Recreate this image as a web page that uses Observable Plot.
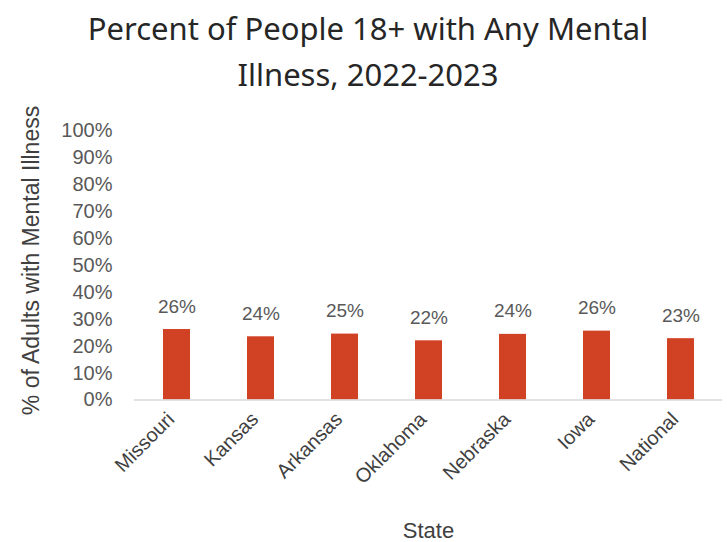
<!DOCTYPE html>
<html>
<head>
<meta charset="utf-8">
<script src="https://cdn.jsdelivr.net/npm/d3@7"></script>
<script src="https://cdn.jsdelivr.net/npm/@observablehq/plot@0.6"></script>
<style>
  html, body { margin: 0; padding: 0; background: #fff; }
  #wrap { position: relative; width: 727px; height: 542px; }
  #title {
    position: absolute; left: 0; top: 0;
    width: 727px; box-sizing: border-box;
    padding-left: 9px; padding-top: 5px;
    font-family: "Noto Sans", "Open Sans", sans-serif;
    font-size: 31px; line-height: 46px; color: #262626;
    text-align: center;
  }
  #chart svg { display: block; }
</style>
</head>
<body>
<div id="wrap">
<div id="chart"></div>
<div id="title">Percent of People 18+ with Any Mental<br>Illness, 2022-2023</div>
</div>
<script>
const states = ["Missouri", "Kansas", "Arkansas", "Oklahoma", "Nebraska", "Iowa", "National"];
const values = [26.2, 23.5, 24.5, 22.0, 24.4, 25.6, 22.8];
const valueLabels = ["26%", "24%", "25%", "22%", "24%", "26%", "23%"];
const yTicks = [0, 10, 20, 30, 40, 50, 60, 70, 80, 90, 100];
const yLabel = "% of Adults with Mental Illness";
const xLabel = "State";

const data = states.map((s, i) => ({state: s, value: values[i], label: valueLabels[i]}));

const chart = Plot.plot({
  width: 727,
  height: 542,
  marginTop: 130.5,
  marginBottom: 142.5,
  marginLeft: 134,
  marginRight: 5,
  style: {fontFamily: "'Liberation Sans', Arial, sans-serif", background: "white"},
  x: {domain: states, paddingInner: 0.68, paddingOuter: 0.34, label: null},
  y: {domain: [0, 100], label: null},
  marks: [
    Plot.axisY({ticks: yTicks, tickFormat: d => d + "%", tickSize: 0, tickPadding: 22, fontSize: 20, color: "#595959", label: null}),
    Plot.axisX({tickRotate: -45, tickSize: 0, tickPadding: 16, dx: -6, fontSize: 20, color: "#404040", label: null}),
    Plot.barY(data, {x: "state", y: "value", fill: "#D14124"}),
    Plot.ruleY([0], {stroke: "#D9D9D9", strokeWidth: 1.5}),
    Plot.text(data, {x: "state", y: "value", text: "label", dy: -23, fontSize: 19, fill: "#595959"}),
    Plot.text([yLabel], {frameAnchor: "left", textAnchor: "middle", rotate: -90, dx: -103, dy: -5, fontSize: 23, fill: "#404040"}),
    Plot.text([xLabel], {frameAnchor: "bottom", dy: 138, fontSize: 22, fill: "#404040"})
  ]
});
document.getElementById("chart").appendChild(chart);
</script>
</body>
</html>
